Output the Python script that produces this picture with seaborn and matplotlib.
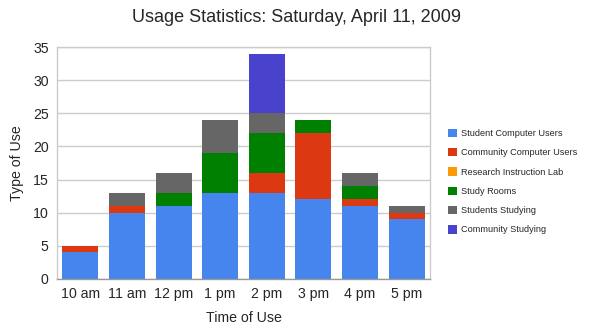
import matplotlib
matplotlib.use("Agg")
import matplotlib.pyplot as plt
import seaborn as sns
import numpy as np
from matplotlib.patches import Patch

categories = ["10 am", "11 am", "12 pm", "1 pm", "2 pm", "3 pm", "4 pm", "5 pm"]
student_computer = [4, 10, 11, 13, 13, 12, 11, 9]
community_computer = [1, 1, 0, 0, 3, 10, 1, 1]
research_lab = [0, 0, 0, 0, 0, 0, 0, 0]
study_rooms = [0, 0, 2, 6, 6, 2, 2, 0]
students_studying = [0, 2, 3, 5, 3, 0, 2, 1]
community_studying = [0, 0, 0, 0, 9, 0, 0, 0]

series_names = ["Student Computer Users", "Community Computer Users",
                "Research Instruction Lab", "Study Rooms",
                "Students Studying", "Community Studying"]
series_values = [student_computer, community_computer, research_lab,
                 study_rooms, students_studying, community_studying]
colors = ["#4684EE", "#DC3912", "#FF9900", "#008000", "#666666", "#4942CC"]

sns.set_style("white")
plt.rcParams["font.family"] = ["Liberation Sans", "DejaVu Sans"]

fig = plt.figure(figsize=(5.91, 3.32), dpi=100)
ax = fig.add_axes([57/591, 1-279/332, (430-57)/591, (279-47)/332])

bottom = np.zeros(len(categories))
for name, vals, col in zip(series_names, series_values, colors):
    v = np.array(vals, dtype=float)
    if v.sum() > 0:
        sns.barplot(x=categories, y=v, bottom=bottom, color=col, width=0.77,
                    ax=ax, saturation=1, linewidth=0, edgecolor="none")
    bottom += v

ax.set_ylim(0, 35)
ax.set_xlim(-0.5, len(categories) - 0.5)
ax.set_yticks(range(0, 36, 5))
ax.yaxis.grid(True, color="#cccccc", linewidth=1)
ax.set_axisbelow(True)
for s in ["top", "right", "left", "bottom"]:
    ax.spines[s].set_color("#cccccc")
    ax.spines[s].set_linewidth(1)
ax.spines["bottom"].set_color("#999999")

ax.tick_params(axis="x", which="major", length=0, labelsize=10.2, pad=6)
ax.set_xticks(np.arange(0.5, len(categories) - 0.5), minor=True)
ax.tick_params(axis="x", which="minor", length=4, color="#999999", direction="out")
ax.tick_params(axis="y", length=0, labelsize=10.2, pad=6)

ax.set_xlabel("Time of Use", fontsize=10.2, labelpad=7)
ax.set_ylabel("Type of Use", fontsize=10.2, labelpad=6)
fig.text(296/591, 1-18/332, "Usage Statistics: Saturday, April 11, 2009",
         ha="center", va="center", fontsize=13)

handles = [Patch(facecolor=c, edgecolor="none") for c in colors]
fig.legend(handles, series_names, loc="upper left",
           bbox_to_anchor=(444/591, 1-125/332), frameon=False, fontsize=6.6,
           handlelength=1.05, handleheight=1.05, handletextpad=0.45,
           labelspacing=1.08, borderaxespad=0)

fig.savefig("out.png", dpi=100)
